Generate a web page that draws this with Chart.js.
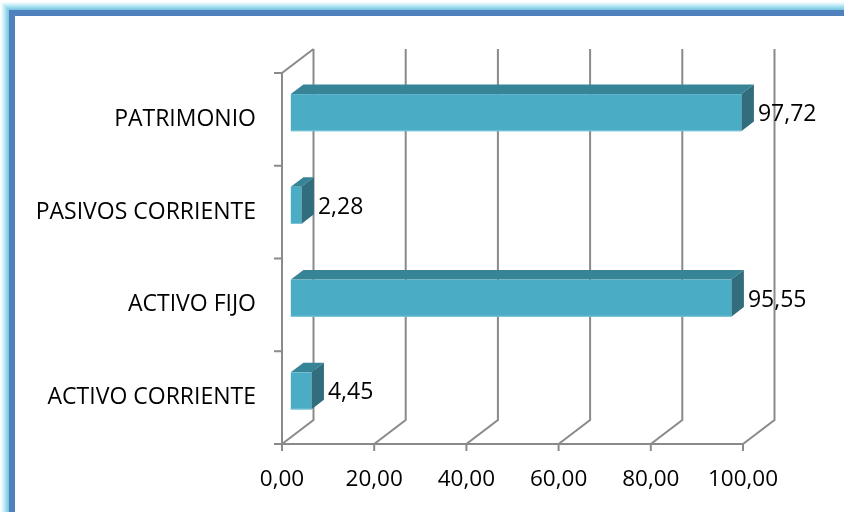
<!DOCTYPE html>
<html>
<head>
<meta charset="utf-8">
<script src="https://cdn.jsdelivr.net/npm/chart.js@4/dist/chart.umd.min.js"></script>
<style>
html,body{margin:0;padding:0;background:#fff;}
canvas{display:block;}
</style>
</head>
<body>
<canvas id="c" width="844" height="512"></canvas>
<script>
const categories = ['PATRIMONIO', 'PASIVOS CORRIENTE', 'ACTIVO FIJO', 'ACTIVO CORRIENTE'];
const values = [97.72, 2.28, 95.55, 4.45];
const xTickValues = [0, 20, 40, 60, 80, 100];

const FONT = 'Open Sans';
const fmt = v => Number(v).toFixed(2).replace('.', ',');

// depth offsets (back wall) and bar depth fractions
const DX = 31.5, DY = -24;
const F0 = 0.28, F1 = 0.68;

const framePlugin = {
  id: 'frame',
  beforeDraw(chart) {
    const ctx = chart.ctx;
    ctx.save();
    ctx.fillStyle = '#ffffff';
    ctx.fillRect(0, 0, chart.width, chart.height);
    const glow = ['#f1fafd', '#e2f5fa', '#d0eff7', '#bde9f4', '#a9e1f0', '#98d9ec', '#8ad0e7', '#7fc6e2'];
    for (let i = 0; i < glow.length; i++) {
      ctx.strokeStyle = glow[i];
      ctx.lineWidth = 1;
      const o = 1.5 + i;
      ctx.strokeRect(o, o + 1, chart.width + 40, chart.height + 40);
    }
    ctx.strokeStyle = '#4f81bd';
    ctx.lineWidth = 6;
    ctx.strokeRect(12, 13, chart.width + 40, chart.height + 40);
    ctx.restore();
  }
};

const wallPlugin = {
  id: 'walls',
  beforeDatasetsDraw(chart) {
    const ctx = chart.ctx;
    const xs = chart.scales.x;
    const a = chart.chartArea;
    ctx.save();
    ctx.strokeStyle = '#8a8a8a';
    ctx.lineWidth = 2;
    ctx.lineCap = 'butt';
    xTickValues.forEach(v => {
      const px = xs.getPixelForValue(v);
      ctx.beginPath();
      ctx.moveTo(px, a.bottom);
      ctx.lineTo(px + DX, a.bottom + DY);
      ctx.lineTo(px + DX, a.top + DY);
      ctx.stroke();
      ctx.beginPath();
      ctx.moveTo(px, a.bottom);
      ctx.lineTo(px, a.bottom + 7);
      ctx.stroke();
    });
    ctx.beginPath();
    ctx.moveTo(a.left + DX, a.top + DY);
    ctx.lineTo(a.left, a.top);
    ctx.lineTo(a.left, a.bottom);
    ctx.lineTo(a.right, a.bottom);
    ctx.stroke();
    const n = categories.length;
    for (let i = 0; i <= n; i++) {
      const py = a.top + (a.bottom - a.top) * i / n;
      ctx.beginPath();
      ctx.moveTo(a.left - 8, py);
      ctx.lineTo(a.left, py);
      ctx.stroke();
    }
    ctx.restore();
  },
  afterDatasetsDraw(chart) {
    const ctx = chart.ctx;
    const meta = chart.getDatasetMeta(0);
    ctx.save();
    meta.data.forEach((el, i) => {
      const p = el.getProps(['x', 'y', 'base', 'height'], true);
      const h = p.height;
      const fx = DX * F0, fy = DY * F0;
      const bx = DX * F1, by = DY * F1;
      const x0 = p.base + fx, x1 = p.x + fx;
      const y0 = p.y - h / 2 + fy, y1 = p.y + h / 2 + fy;
      const ddx = bx - fx, ddy = by - fy;
      ctx.fillStyle = '#388497';
      ctx.beginPath();
      ctx.moveTo(x0, y0);
      ctx.lineTo(x0 + ddx, y0 + ddy);
      ctx.lineTo(x1 + ddx, y0 + ddy);
      ctx.lineTo(x1, y0);
      ctx.closePath();
      ctx.fill();
      ctx.fillStyle = '#316d7c';
      ctx.beginPath();
      ctx.moveTo(x1, y0);
      ctx.lineTo(x1 + ddx, y0 + ddy);
      ctx.lineTo(x1 + ddx, y1 + ddy);
      ctx.lineTo(x1, y1);
      ctx.closePath();
      ctx.fill();
      ctx.fillStyle = '#4bacc6';
      ctx.fillRect(x0, y0, x1 - x0, y1 - y0);
      ctx.fillStyle = '#7cc4d6';
      ctx.fillRect(x0, y1 - 1, x1 - x0, 1);
      ctx.fillStyle = '#000000';
      ctx.font = '23px "' + FONT + '"';
      ctx.textAlign = 'left';
      ctx.textBaseline = 'middle';
      ctx.fillText(fmt(values[i]), x1 + ddx + 4, (y0 + y1) / 2 + 2);
    });
    ctx.restore();
  }
};

new Chart(document.getElementById('c'), {
  type: 'bar',
  data: {
    labels: categories,
    datasets: [{
      data: values,
      backgroundColor: 'rgba(0,0,0,0)',
      borderWidth: 0,
      barPercentage: 0.4,
      categoryPercentage: 1
    }]
  },
  options: {
    indexAxis: 'y',
    responsive: false,
    animation: false,
    events: [],
    layout: { padding: { top: 73, right: 101, bottom: 0, left: 0 } },
    plugins: { legend: { display: false }, tooltip: { enabled: false } },
    scales: {
      x: {
        min: 0, max: 100,
        afterBuildTicks(scale) { scale.ticks = xTickValues.map(v => ({ value: v })); },
        afterFit(scale) { scale.height = 68; },
        grid: { display: false, drawTicks: false },
        border: { display: false },
        ticks: {
          callback: v => fmt(v),
          color: '#000000',
          font: { family: FONT, size: 22.5 },
          padding: 22,
          maxRotation: 0,
          autoSkip: false
        }
      },
      y: {
        afterFit(scale) { scale.width = 282; },
        grid: { display: false, drawTicks: false },
        border: { display: false },
        ticks: {
          color: '#000000',
          font: { family: FONT, size: 23 },
          padding: 26,
          autoSkip: false
        }
      }
    }
  },
  plugins: [framePlugin, wallPlugin]
});
</script>
</body>
</html>
